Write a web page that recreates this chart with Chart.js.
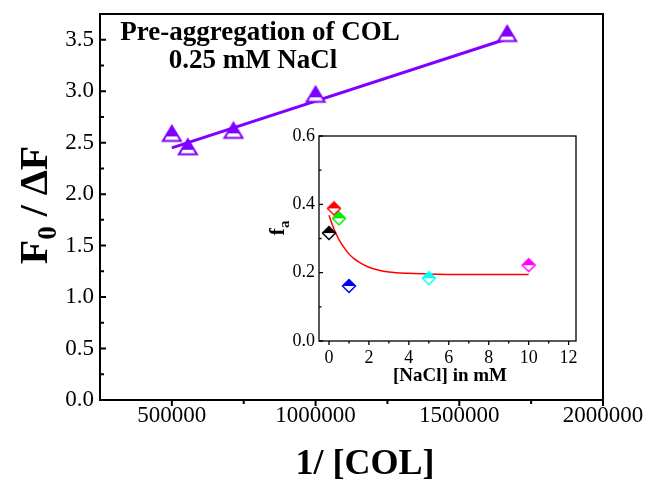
<!DOCTYPE html>
<html><head><meta charset="utf-8">
<script src="https://cdn.jsdelivr.net/npm/chart.js@4.4.0/dist/chart.umd.min.js"></script>
<style>
html,body{margin:0;padding:0;background:#fff;}
#wrap{position:relative;width:646px;height:480px;overflow:hidden;}
#main{position:absolute;left:0;top:0;}
#inset{position:absolute;left:256px;top:118px;}
</style></head><body>
<div id="wrap">
<canvas id="main" width="646" height="480"></canvas>
<canvas id="inset" width="340" height="270"></canvas>
</div>
<script>
// ---- data ----
const invCol = [500000, 555556, 714286, 1000000, 1666667];
const f0dF = [2.59, 2.46, 2.62, 2.97, 3.56];
const fitLineX = [500000, 1666667];
const fitLineY = [2.45, 3.51];
const xTicksMain = [500000, 1000000, 1500000, 2000000];
const yTicksMain = [0, 0.5, 1, 1.5, 2, 2.5, 3, 3.5];

const nacl = [0, 0.25, 0.5, 1, 5, 10];
const fa = [0.316, 0.388, 0.359, 0.161, 0.184, 0.222];
const fitNaclX = [0, 0.25, 0.5, 0.75, 1, 1.25, 1.5, 2, 2.5, 3, 4, 5, 6, 8, 10];
const fitFaY = [0.368, 0.328, 0.297, 0.274, 0.255, 0.241, 0.231, 0.216, 0.207, 0.202, 0.198, 0.196, 0.195, 0.195, 0.195];
const insetXTicks = [0, 2, 4, 6, 8, 10, 12];
const insetYTicks = [0, 0.2, 0.4, 0.6];

// ---- styles ----
const PURPLE = '#8000ff';
const insetColors = ['#000000', '#ff0000', '#00ee00', '#0000ff', '#00ffff', '#ff00ff'];
const SERIF = '"Liberation Serif", "DejaVu Serif", serif';

function halfTriangle(color) {
  const c = document.createElement('canvas');
  c.width = 22; c.height = 20;
  const g = c.getContext('2d');
  const top = 2.5, bot = 17.5, l = 2, r = 20, cx = 11;
  const path = () => { g.beginPath(); g.moveTo(cx, top); g.lineTo(r, bot); g.lineTo(l, bot); g.closePath(); };
  g.fillStyle = '#fff'; path(); g.fill();
  g.save(); g.beginPath(); g.rect(0, 0, 22, top + 0.707 * (bot - top)); g.clip();
  g.fillStyle = color; path(); g.fill(); g.restore();
  g.strokeStyle = color; g.lineWidth = 2; g.lineJoin = 'miter'; path(); g.stroke();
  return c;
}
function halfDiamond(color) {
  const c = document.createElement('canvas');
  c.width = 16; c.height = 16;
  const g = c.getContext('2d');
  const path = () => { g.beginPath(); g.moveTo(8, 1.5); g.lineTo(14.5, 8); g.lineTo(8, 14.5); g.lineTo(1.5, 8); g.closePath(); };
  g.fillStyle = '#fff'; path(); g.fill();
  g.save(); g.beginPath(); g.rect(0, 0, 16, 8); g.clip();
  g.fillStyle = color; path(); g.fill(); g.restore();
  g.strokeStyle = color; g.lineWidth = 1.5; path(); g.stroke();
  return c;
}

function drawTicks(ctx, scale, values, len, outward, lw) {
  const a = scale.chart.chartArea;
  ctx.save(); ctx.strokeStyle = '#000'; ctx.lineWidth = lw;
  ctx.beginPath();
  values.forEach(v => {
    const p = scale.getPixelForValue(v);
    if (scale.isHorizontal()) {
      const y0 = a.bottom;
      ctx.moveTo(p, y0); ctx.lineTo(p, outward ? y0 + len : y0 - len);
    } else {
      const x0 = a.left;
      ctx.moveTo(x0, p); ctx.lineTo(outward ? x0 - len : x0 + len, p);
    }
  });
  ctx.stroke(); ctx.restore();
}
function mids(arr) { const m = []; for (let i = 0; i < arr.length - 1; i++) m.push((arr[i] + arr[i + 1]) / 2); return m; }
function noPad(s) { s.paddingTop = 0; s.paddingBottom = 0; s.paddingLeft = 0; s.paddingRight = 0; }

const mainDeco = {
  id: 'mainDeco',
  afterDraw(chart) {
    const ctx = chart.ctx, a = chart.chartArea;
    const xs = chart.scales.x, ys = chart.scales.y;
    ctx.save();
    ctx.strokeStyle = '#000'; ctx.lineWidth = 2;
    ctx.strokeRect(a.left, a.top, a.right - a.left, a.bottom - a.top);
    drawTicks(ctx, ys, yTicksMain, 6, false, 2);
    drawTicks(ctx, ys, mids(yTicksMain), 4, false, 2);
    drawTicks(ctx, xs, xTicksMain, 6, true, 2);
    drawTicks(ctx, xs, mids(xTicksMain), 4, true, 2);
    ctx.fillStyle = '#000';
    ctx.textAlign = 'center'; ctx.textBaseline = 'alphabetic';
    ctx.font = 'bold 27px ' + SERIF;
    ctx.fillText('Pre-aggregation of COL', 260, 40);
    ctx.fillText('0.25 mM NaCl', 253, 68);
    ctx.font = 'bold 36px ' + SERIF;
    ctx.fillText('1/ [COL]', 365, 474);
    // y title with subscript
    ctx.translate(47, 205); ctx.rotate(-Math.PI / 2);
    const big = 'bold 40px ' + SERIF, small = 'bold 27px ' + SERIF;
    ctx.font = big; const wF = ctx.measureText('F').width; const wRest = ctx.measureText(' / \u0394F').width;
    ctx.font = small; const w0 = ctx.measureText('0').width;
    let x = -(wF + w0 + wRest) / 2;
    ctx.textAlign = 'left';
    ctx.font = big; ctx.fillText('F', x, 0); x += wF;
    ctx.font = small; ctx.fillText('0', x, 9); x += w0;
    ctx.font = big; ctx.fillText(' / \u0394F', x, 0);
    ctx.restore();
  }
};

const insetDeco = {
  id: 'insetDeco',
  afterDraw(chart) {
    const ctx = chart.ctx, a = chart.chartArea;
    const xs = chart.scales.x, ys = chart.scales.y;
    ctx.save();
    ctx.strokeStyle = '#000'; ctx.lineWidth = 1.3;
    ctx.strokeRect(a.left, a.top, a.right - a.left, a.bottom - a.top);
    drawTicks(ctx, ys, insetYTicks, 4, false, 1.3);
    drawTicks(ctx, ys, mids(insetYTicks), 2.5, false, 1.3);
    drawTicks(ctx, xs, insetXTicks, 4, true, 1.3);
    drawTicks(ctx, xs, mids(insetXTicks), 2.5, true, 1.3);
    ctx.fillStyle = '#000'; ctx.textAlign = 'center'; ctx.textBaseline = 'alphabetic';
    ctx.font = 'bold 19px ' + SERIF;
    ctx.fillText('[NaCl] in mM', 194, 263);
    ctx.translate(28, 110); ctx.rotate(-Math.PI / 2);
    ctx.textAlign = 'left';
    ctx.font = 'bold 22px ' + SERIF; const wf = ctx.measureText('f').width;
    ctx.font = 'bold 15px ' + SERIF; const wa = ctx.measureText('a').width;
    let x = -(wf + wa) / 2;
    ctx.font = 'bold 22px ' + SERIF; ctx.fillText('f', x, 0);
    ctx.font = 'bold 15px ' + SERIF; ctx.fillText('a', x + wf, 5);
    ctx.restore();
  }
};

new Chart(document.getElementById('main'), {
  type: 'scatter',
  data: {
    datasets: [
      { data: invCol.map((x, i) => ({ x, y: f0dF[i] })), pointStyle: halfTriangle(PURPLE), pointRadius: 10, showLine: false },
      { type: 'line', data: fitLineX.map((x, i) => ({ x, y: fitLineY[i] })), borderColor: PURPLE, borderWidth: 3, pointRadius: 0, fill: false }
    ]
  },
  options: {
    responsive: false, animation: false, events: [], devicePixelRatio: 1,
    layout: { padding: { top: 14, right: 43, left: 0, bottom: 0 } },
    plugins: { legend: { display: false }, tooltip: { enabled: false } },
    scales: {
      x: {
        type: 'linear', min: 250000, max: 2000000,
        afterBuildTicks: s => { s.ticks = xTicksMain.map(v => ({ value: v })); },
        afterFit: s => { s.height = 80; noPad(s); },
        grid: { display: false, drawTicks: false }, border: { display: false },
        ticks: { color: '#000', font: { family: SERIF, size: 23 }, padding: 2, maxRotation: 0, autoSkip: false, callback: v => String(v) }
      },
      y: {
        type: 'linear', min: 0, max: 3.75,
        afterBuildTicks: s => { s.ticks = yTicksMain.map(v => ({ value: v })); },
        afterFit: s => { s.width = 100; noPad(s); },
        grid: { display: false, drawTicks: false }, border: { display: false },
        ticks: { color: '#000', font: { family: SERIF, size: 23 }, padding: 6, autoSkip: false, callback: v => v.toFixed(1) }
      }
    }
  },
  plugins: [mainDeco]
});

new Chart(document.getElementById('inset'), {
  type: 'scatter',
  data: {
    datasets: nacl.map((x, i) => ({ data: [{ x, y: fa[i] }], pointStyle: halfDiamond(insetColors[i]), pointRadius: 7 }))
      .concat([{ type: 'line', data: fitNaclX.map((x, i) => ({ x, y: fitFaY[i] })), borderColor: '#ff0000', borderWidth: 1.5, pointRadius: 0, fill: false, cubicInterpolationMode: 'monotone' }])
  },
  options: {
    responsive: false, animation: false, events: [], devicePixelRatio: 1,
    layout: { padding: { top: 18, right: 20, left: 0, bottom: 0 } },
    plugins: { legend: { display: false }, tooltip: { enabled: false } },
    scales: {
      x: {
        type: 'linear', min: -0.5, max: 12.37,
        afterBuildTicks: s => { s.ticks = insetXTicks.map(v => ({ value: v })); },
        afterFit: s => { s.height = 47; noPad(s); },
        grid: { display: false, drawTicks: false }, border: { display: false },
        ticks: { color: '#000', font: { family: SERIF, size: 18 }, padding: 6, maxRotation: 0, autoSkip: false, callback: v => String(v) }
      },
      y: {
        type: 'linear', min: 0, max: 0.6,
        afterBuildTicks: s => { s.ticks = insetYTicks.map(v => ({ value: v })); },
        afterFit: s => { s.width = 63; noPad(s); },
        grid: { display: false, drawTicks: false }, border: { display: false },
        ticks: { color: '#000', font: { family: SERIF, size: 18 }, padding: 4, autoSkip: false, callback: v => v.toFixed(1) }
      }
    }
  },
  plugins: [insetDeco]
});
</script>
</body></html>
